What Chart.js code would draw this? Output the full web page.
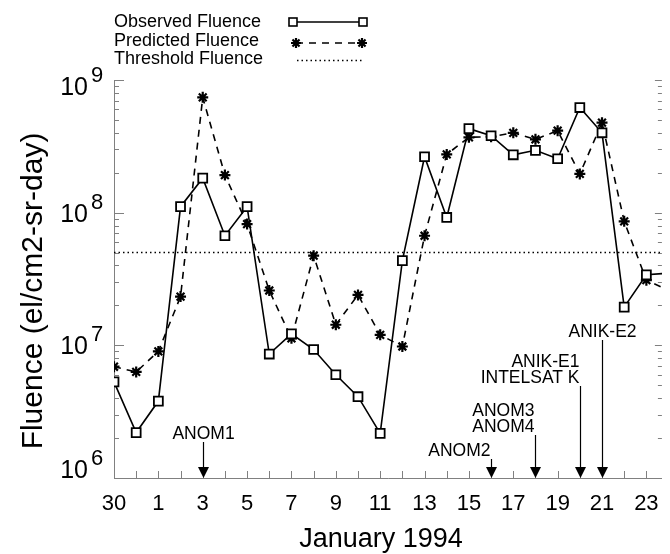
<!DOCTYPE html>
<html>
<head>
<meta charset="utf-8">
<title>Fluence - January 1994</title>
<script src="https://cdn.jsdelivr.net/npm/chart.js@4.4.1/dist/chart.umd.min.js"></script>
<style>
  html, body { margin: 0; padding: 0; background: #fff; overflow: hidden; }
  canvas { display: block; }
</style>
</head>
<body>
<canvas id="fluenceChart" width="670" height="554"></canvas>
<script>
// ========================================
// Data (el/cm2-sr-day)
// ========================================
const dayLabels = ['30', '31', '1', '2', '3', '4', '5', '6', '7', '8', '9', '10', '11', '12',
    '13', '14', '15', '16', '17', '18', '19', '20', '21', '22', '23', '24'];

const observedFluence = [5.3e6, 2.2e6, 3.8e6, 1.11e8, 1.82e8, 6.7e7, 1.11e8, 8.6e6, 1.22e7, 9.3e6,
    6.0e6, 4.1e6, 2.17e6, 4.35e7, 2.64e8, 9.2e7, 4.3e8, 3.8e8, 2.73e8, 2.95e8,
    2.55e8, 6.2e8, 4.0e8, 1.94e7, 3.4e7, 3.5e7];

const predictedFluence = [6.9e6, 6.3e6, 9.0e6, 2.33e7, 7.4e8, 1.92e8, 8.2e7, 2.59e7, 1.13e7, 4.74e7,
    1.43e7, 2.4e7, 1.2e7, 9.8e6, 6.7e7, 2.75e8, 3.7e8, 3.74e8, 4.0e8, 3.57e8,
    4.15e8, 1.96e8, 4.77e8, 8.6e7, 3.1e7, 2.6e7];

const thresholdFluence = 5e7;

const yTickValues = [1e6, 1e7, 1e8, 1e9];
const yTickExponents = ['6', '7', '8', '9'];

// satellite anomaly events (January day numbers)
const eventDays = ['3', '16', '18', '20', '21'];
const eventNames = [['ANOM1'], ['ANOM2'], ['ANOM3', 'ANOM4'], ['ANIK-E1', 'INTELSAT K'], ['ANIK-E2']];

// ========================================
// Layout / style
// ========================================
const FONT = '"Liberation Sans", Arial, Helvetica, sans-serif';
const AXIS_GRAY = '#808080';
const X_END = 24.7;                       // plot is cut at the right edge
const yLabelDrop = [0, 9, 9, 15];        // label baseline offset below tick
const eventRise = [39, 22, 46, 95, 141];  // last label baseline above axis
const eventAlign = ['center', 'right', 'right', 'right', 'center'];

function drawSquare(ctx, x, y, half) {
    ctx.fillStyle = '#fff';
    ctx.fillRect(x - half, y - half, half * 2, half * 2);
    ctx.strokeRect(x - half, y - half, half * 2, half * 2);
}

function drawAsterisk(ctx, x, y, r) {
    ctx.beginPath();
    for (let k = 0; k < 4; k++) {
        const a = k * Math.PI / 4;
        ctx.moveTo(x - r * Math.cos(a), y - r * Math.sin(a));
        ctx.lineTo(x + r * Math.cos(a), y + r * Math.sin(a));
    }
    ctx.stroke();
}

// axes, tick marks, titles and legend drawn by hand (inward ticks, superscripts)
const framePlugin = {
    id: 'frame',
    beforeDatasetsDraw(chart) {
        const { ctx, chartArea: area, scales: { x, y } } = chart;
        ctx.save();

        // axis lines
        ctx.strokeStyle = AXIS_GRAY;
        ctx.lineWidth = 1;
        ctx.beginPath();
        ctx.moveTo(area.left + 0.5, area.top);
        ctx.lineTo(area.left + 0.5, area.bottom + 0.5);
        ctx.lineTo(area.right, area.bottom + 0.5);
        ctx.stroke();

        // log ticks on left and right, pointing inward
        ctx.beginPath();
        for (let e = 6; e <= 9; e++) {
            for (let m = 1; m <= 9; m++) {
                const v = m * Math.pow(10, e);
                if (v > y.max) break;
                const py = Math.round(y.getPixelForValue(v)) + 0.5;
                const len = m === 1 ? 10 : 5;
                ctx.moveTo(area.left, py);
                ctx.lineTo(area.left + len, py);
                ctx.moveTo(area.right, py);
                ctx.lineTo(area.right - (m === 1 ? 7 : 4), py);
            }
        }
        // day ticks, pointing up
        for (let i = 0; i <= X_END; i++) {
            const px = Math.round(x.getPixelForValue(i)) + 0.5;
            ctx.moveTo(px, area.bottom + 1);
            ctx.lineTo(px, area.bottom - 7);
        }
        ctx.stroke();

        // y tick labels 10^n
        ctx.fillStyle = '#000';
        ctx.textBaseline = 'alphabetic';
        yTickValues.forEach((v, i) => {
            const py = y.getPixelForValue(v) + yLabelDrop[i];
            ctx.font = `25px ${FONT}`;
            ctx.textAlign = 'right';
            ctx.fillText('10', area.left - 26, py);
            ctx.font = `22px ${FONT}`;
            ctx.textAlign = 'left';
            ctx.fillText(yTickExponents[i], area.left - 23, py - 13);
        });

        // axis titles
        ctx.font = `27px ${FONT}`;
        ctx.textAlign = 'center';
        ctx.fillText('January 1994', 381, 547);
        ctx.save();
        ctx.translate(42, 291);
        ctx.rotate(-Math.PI / 2);
        ctx.font = `30px ${FONT}`;
        ctx.fillText('Fluence (el/cm2-sr-day)', 0, 0);
        ctx.restore();

        // legend
        ctx.font = `18px ${FONT}`;
        ctx.textAlign = 'left';
        ctx.fillStyle = '#000';
        ctx.fillText('Observed Fluence', 114, 27);
        ctx.fillText('Predicted Fluence', 114, 45.5);
        ctx.fillText('Threshold Fluence', 114, 64);

        ctx.strokeStyle = '#000';
        ctx.lineWidth = 1.6;
        ctx.beginPath();
        ctx.moveTo(293, 22);
        ctx.lineTo(363, 22);
        ctx.stroke();
        drawSquare(ctx, 293, 22, 4);
        drawSquare(ctx, 363, 22, 4);

        ctx.setLineDash([7, 6]);
        ctx.beginPath();
        ctx.moveTo(296, 43);
        ctx.lineTo(362, 43);
        ctx.stroke();
        ctx.setLineDash([]);
        ctx.lineWidth = 2.2;
        drawAsterisk(ctx, 296, 43, 5);
        drawAsterisk(ctx, 362, 43, 5);

        ctx.lineWidth = 1.5;
        ctx.setLineDash([1.5, 3]);
        ctx.beginPath();
        ctx.moveTo(297, 60.5);
        ctx.lineTo(364, 60.5);
        ctx.stroke();
        ctx.restore();
    },

    afterDatasetsDraw(chart) {
        const { ctx, chartArea: area, scales: { x } } = chart;
        ctx.save();
        ctx.fillStyle = '#000';
        ctx.strokeStyle = '#000';
        ctx.lineWidth = 1.2;
        ctx.font = `17.5px ${FONT}`;
        ctx.textBaseline = 'alphabetic';

        eventDays.forEach((d, i) => {
            const px = Math.round(x.getPixelForValue(dayLabels.indexOf(d))) + 0.5;
            const base = area.bottom - eventRise[i];
            const lines = eventNames[i];

            ctx.textAlign = eventAlign[i];
            const tx = eventAlign[i] === 'right' ? px - 1 : px;
            lines.forEach((t, k) => {
                ctx.fillText(t, tx, base - (lines.length - 1 - k) * 16.5);
            });

            // arrow
            ctx.beginPath();
            ctx.moveTo(px, base + 3);
            ctx.lineTo(px, area.bottom - 10);
            ctx.stroke();
            ctx.beginPath();
            ctx.moveTo(px - 5.5, area.bottom - 11);
            ctx.lineTo(px + 5.5, area.bottom - 11);
            ctx.lineTo(px, area.bottom);
            ctx.closePath();
            ctx.fill();
        });
        ctx.restore();
    }
};

const toPoints = values => values.map((v, i) => ({ x: i, y: v }));

new Chart(document.getElementById('fluenceChart'), {
    type: 'line',
    data: {
        datasets: [{
            label: 'Observed Fluence',
            data: toPoints(observedFluence),
            borderColor: '#000',
            borderWidth: 1.6,
            pointStyle: 'rect',
            pointRadius: 6.3,
            pointBorderWidth: 1.8,
            pointBackgroundColor: '#fff',
            pointBorderColor: '#000',
            tension: 0,
            clip: 0
        }, {
            label: 'Predicted Fluence',
            data: toPoints(predictedFluence),
            borderColor: '#000',
            borderWidth: 1.6,
            borderDash: [7, 6],
            pointStyle: 'star',
            pointRadius: 5.5,
            pointBorderWidth: 2.2,
            pointBorderColor: '#000',
            tension: 0,
            clip: 0
        }, {
            label: 'Threshold Fluence',
            data: dayLabels.map((d, i) => ({ x: i, y: thresholdFluence })),
            borderColor: '#000',
            borderWidth: 1.5,
            borderDash: [1.5, 3],
            pointRadius: 0,
            tension: 0,
            clip: 0
        }]
    },
    options: {
        responsive: false,
        animation: false,
        layout: { padding: { top: 80, left: 0, right: 0, bottom: 0 } },
        plugins: {
            legend: { display: false },
            tooltip: { enabled: false }
        },
        scales: {
            x: {
                type: 'linear',
                min: 0,
                max: X_END,
                grid: { display: false },
                border: { display: false },
                ticks: {
                    stepSize: 1,
                    autoSkip: false,
                    maxRotation: 0,
                    includeBounds: false,
                    padding: 5,
                    color: '#000',
                    font: { family: FONT, size: 22 },
                    callback: value => (Number.isInteger(value) && value % 2 === 0) ? dayLabels[value] : ''
                },
                afterFit: scale => {
                    scale.height = 76;
                    scale.paddingLeft = 0;
                    scale.paddingRight = 0;
                }
            },
            y: {
                type: 'logarithmic',
                min: 1e6,
                max: 1e9,
                grid: { display: false },
                border: { display: false },
                ticks: { display: false },
                afterFit: scale => {
                    scale.width = 114;
                }
            }
        }
    },
    plugins: [framePlugin]
});
</script>
</body>
</html>
